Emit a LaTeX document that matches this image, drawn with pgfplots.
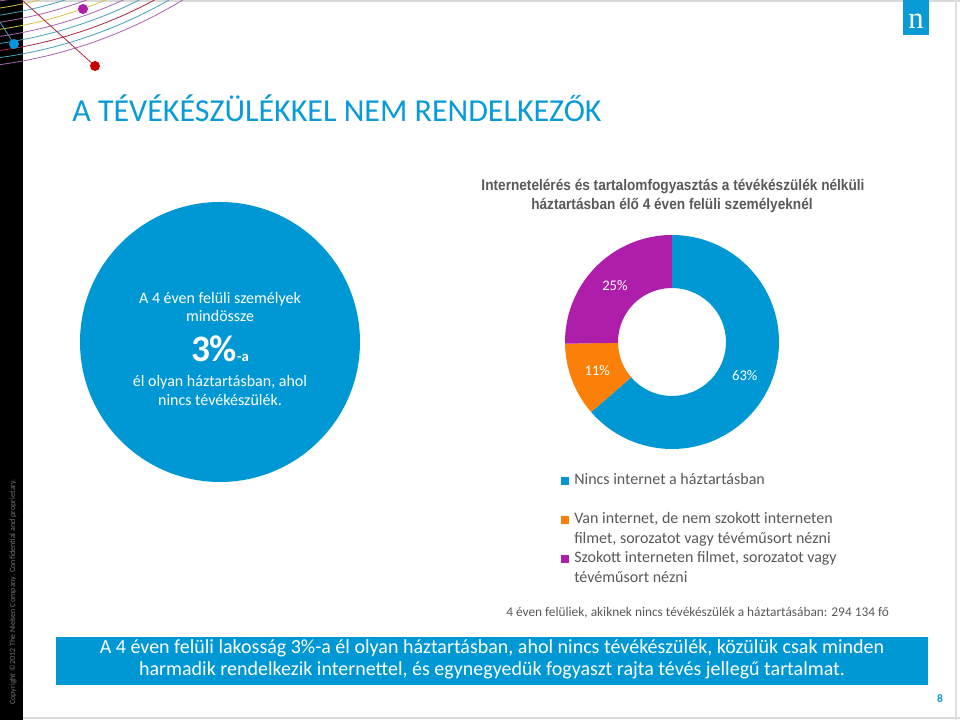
\documentclass[border=0pt]{standalone}
\usepackage{pgfplots}
\pgfplotsset{compat=1.18}
\usepackage{pgfplotstable}
\usepackage{fontspec}
\setmainfont{Carlito}
\newfontfamily\narrowfont[FakeStretch=0.89]{Liberation Sans}
\newfontfamily\logofont{Liberation Serif}

\definecolor{nblue}{RGB}{0,152,212}
\definecolor{tblue}{RGB}{10,155,215}
\definecolor{norange}{RGB}{250,128,10}
\definecolor{npurple}{RGB}{175,30,170}
\definecolor{ngray}{RGB}{89,89,89}
\definecolor{arcv}{RGB}{170,100,175}
\definecolor{arct}{RGB}{70,160,185}
\definecolor{arcr}{RGB}{170,40,70}
\definecolor{arcy}{RGB}{215,195,70}

% shares of the donut (Excel rounds them, so they sum to 99)
\pgfplotstableread{
share
63
11
25
}\donutdata

\newcommand\sector[3]{%
  \fill[#3, shift={(axis cs:0,0)}] (#1:80.25pt) arc[start angle=#1, end angle=#2, radius=80.25pt]
    -- (#2:40.5pt) arc[start angle=#2, end angle=#1, radius=40.5pt] -- cycle;}

\begin{document}
\begin{tikzpicture}[x=0.75pt,y=0.75pt]
\pgfplotstablegetelem{0}{share}\of\donutdata \let\sA\pgfplotsretval
\pgfplotstablegetelem{1}{share}\of\donutdata \let\sB\pgfplotsretval
\pgfplotstablegetelem{2}{share}\of\donutdata \let\sC\pgfplotsretval
\pgfmathsetmacro\tot{\sA+\sB+\sC}
\pgfmathsetmacro\aA{90}
\pgfmathsetmacro\aB{\aA-\sA/\tot*360}
\pgfmathsetmacro\aC{\aB-\sB/\tot*360}
\pgfmathsetmacro\aD{\aC-\sC/\tot*360}
\pgfmathsetmacro\mA{(\aA+\aB)/2}
\pgfmathsetmacro\mB{(\aB+\aC)/2}
\pgfmathsetmacro\mC{(\aC+\aD)/2}

\useasboundingbox (0,0) rectangle (960,720);
\begin{scope}[shift={(0,720)}, yscale=-1]
\fill[white] (0,0) rectangle (960,720);
\draw[black!15, line width=1.5pt] (0,1) -- (960,1);
\draw[black!15, line width=1.5pt] (0,718.5) -- (960,718.5);
\draw[black!12, line width=0.8pt] (956,0) -- (956,720);

% left bar and decoration
\fill[black] (0,0) rectangle (23,720);
\begin{scope}
  \clip (0,0) rectangle (200,130);
  \foreach \r/\c in {479/arcv,472/arct,465/arcr,458/arct,451/arcv,444/arcy,437/arcv,430/arct,423/arcy,416/arcv,409/arct}
    \draw[\c, line width=0.6pt] (-65,-410) circle[radius=\r];
  \draw[arcr, line width=0.6pt] (22,0) -- (95,66);
  \draw[arct, line width=0.6pt] (0,22) -- (14,44);
  \fill[npurple] (83,9) circle[radius=5];
  \fill[red!80!black] (95,66) circle[radius=5];
  \fill[cyan!80!blue] (14,44) circle[radius=5];
\end{scope}
\node[rotate=90, anchor=base, text=black!55, font=\fontsize{6}{7}\selectfont] at (15,592)
  {Copyright \textcopyright2012 The Nielsen Company. Confidential and proprietary.};

% logo
\fill[tblue] (903,0) rectangle (929,35);
\node[text=white, anchor=base, inner sep=0pt, font=\fontsize{23}{23}\selectfont\logofont] at (916,29) {n};

% title
\node[anchor=base west, text=tblue, font=\fontsize{24}{28}\selectfont, inner sep=0pt] at (72,122)
  {A TÉVÉKÉSZÜLÉKKEL NEM RENDELKEZŐK};

% big circle
\fill[nblue] (220,342) circle[radius=140];
\begin{scope}[every node/.style={text=white, inner sep=0pt, anchor=base, font=\fontsize{12}{14}\selectfont}]
  \node at (220,304) {A 4 éven felüli személyek};
  \node at (220,322) {mindössze};
  \node[font=\fontsize{28}{30}\selectfont\bfseries] at (220,362) {3\%\raisebox{0pt}{\fontsize{11}{12}\selectfont-a}};
  \node at (220,387) {él olyan háztartásban, ahol};
  \node at (220,406) {nincs tévékészülék.};
\end{scope}

% chart title
\begin{scope}[every node/.style={text=ngray, inner sep=0pt, anchor=base, font=\fontsize{11.5}{14}\selectfont\narrowfont\bfseries}]
  \node at (673,191) {Internetelérés és tartalomfogyasztás a tévékészülék nélküli};
  \node at (672,210) {háztartásban élő 4 éven felüli személyeknél};
\end{scope}

% legend
\fill[nblue] (561,477) rectangle (569,485);
\fill[norange] (561,516) rectangle (569,524);
\fill[npurple] (561,555) rectangle (569,563);
\begin{scope}[every node/.style={text=ngray, inner sep=0pt, anchor=base west, font=\fontsize{12}{14}\selectfont}]
  \node at (574,485) {Nincs internet a háztartásban};
  \node at (574,524) {Van internet, de nem szokott interneten};
  \node at (574,543.5) {filmet, sorozatot vagy tévéműsort nézni};
  \node at (574,563) {Szokott interneten filmet, sorozatot vagy};
  \node at (574,582.5) {tévéműsort nézni};
  \node[font=\fontsize{10}{12}\selectfont] at (506,617) {4 éven felüliek, akiknek nincs tévékészülék a háztartásában: 294 134 fő};
\end{scope}

% summary box
\fill[nblue] (56,637) rectangle (928,685);
\begin{scope}[every node/.style={text=white, inner sep=0pt, anchor=base, font=\fontsize{15}{17}\selectfont}]
  \node at (492,654) {A 4 éven felüli lakosság 3\%-a él olyan háztartásban, ahol nincs tévékészülék, közülük csak minden};
  \node at (492,676) {harmadik rendelkezik internettel, és egynegyedük fogyaszt rajta tévés jellegű tartalmat.};
\end{scope}
\node[anchor=base, text=tblue, font=\fontsize{8.5}{10}\selectfont\bfseries, inner sep=0pt] at (940,703) {8};
\end{scope}

% donut chart (centre at 672,342 from the top-left)
\begin{axis}[at={(672,378)}, anchor=origin, x=0.75pt, y=0.75pt,
  xmin=-110, xmax=110, ymin=-110, ymax=110, hide axis, clip=false]
  \sector{\aA}{\aB}{nblue}
  \sector{\aB}{\aC}{norange}
  \sector{\aC}{\aD}{npurple}
  \begin{scope}[every node/.style={text=white, font=\fontsize{11}{13}\selectfont}]
    \node at (axis cs:{80*cos(\mA)},{80*sin(\mA)}) {\sA\%};
    \node at (axis cs:{80*cos(\mB)},{80*sin(\mB)}) {\sB\%};
    \node at (axis cs:{80*cos(\mC)},{80*sin(\mC)}) {\sC\%};
  \end{scope}
\end{axis}
\end{tikzpicture}
\end{document}
